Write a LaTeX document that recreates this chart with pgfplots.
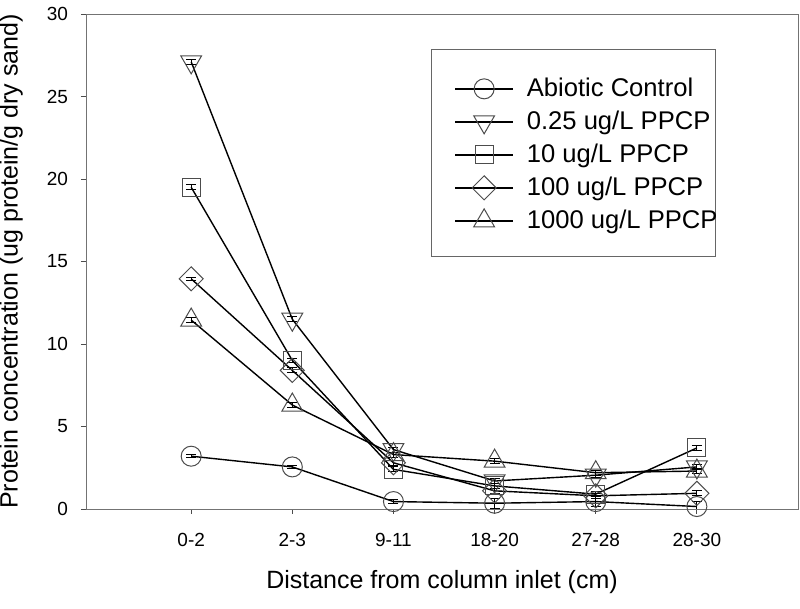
\documentclass[border=0pt]{standalone}
\usepackage{fontspec}
\setmainfont{Liberation Sans}
\usepackage{pgfplots}
\pgfplotsset{compat=1.18}

\begin{document}
\begin{tikzpicture}
\begin{axis}[
    scale only axis,
    width=356pt, height=247.5pt,
    xmin=-1.04, xmax=6, ymin=0, ymax=30,
    xtick={0,...,5},
    xticklabels={0-2,2-3,9-11,18-20,27-28,28-30},
    ytick={0,5,...,30},
    tick align=outside, tick pos=left,
    major tick length=2.5pt,
    axis line style={black!55},
    every tick/.style={black!70},
    /pgf/number format/assume math mode=true,
    tick label style={font=\fontsize{9.5}{11}\selectfont},
    xticklabel style={yshift=-6pt},
    yticklabel style={xshift=-3pt},
    xlabel={Distance from column inlet (cm)},
    ylabel={Protein concentration (ug protein/g dry sand)},
    every axis x label/.style={at={(axis description cs:0.5,-0.1475)}, anchor=center,
        font=\fontsize{12.5}{14}\selectfont},
    every axis y label/.style={at={(axis description cs:-0.105,0.5)}, rotate=90, anchor=center,
        font=\fontsize{12.5}{14}\selectfont},
    legend style={at={(axis description cs:0.4846,0.929)}, anchor=north west,
        draw=black!60, inner xsep=-3pt, inner ysep=10.5pt,
        font=\fontsize{12.8}{14}\selectfont,
        nodes={inner xsep=2pt, inner ysep=0pt, text height=13pt, text depth=3.5pt}},
    legend cell align=left,
    legend image code/.code={%
        \path (-4pt,-0.9pt);
        \draw[mark repeat=2,mark phase=2] plot coordinates {(10.5pt,-0.9pt) (25pt,-0.9pt) (39.5pt,-0.9pt)};},
    error bars/error mark options={rotate=90, mark size=2.5pt, black, line width=0.5pt},
]
\addplot[black, line width=0.7pt, mark=o, mark size=5pt, mark options={draw=black!70, line width=0.5pt},
    error bars/.cd, y dir=both, y explicit] coordinates {
    (0,3.2) +- (0,0.1) (1,2.55) +- (0,0.1) (2,0.45) +- (0,0.1)
    (3,0.35) +- (0,0.3) (4,0.45) +- (0,0.3) (5,0.15) +- (0,0.3)};
\addlegendentry{\hspace{4.5pt}Abiotic Control}
\addplot[black, line width=0.7pt, mark=triangle, mark size=6pt, mark options={rotate=180, draw=black!70, line width=0.5pt},
    error bars/.cd, y dir=both, y explicit] coordinates {
    (0,27.1) +- (0,0.15) (1,11.5) +- (0,0.15) (2,3.6) +- (0,0.15)
    (3,1.7) +- (0,0.15) (4,2.05) +- (0,0.15) (5,2.55) +- (0,0.15)};
\addlegendentry{\hspace{4.5pt}0.25 ug/L PPCP}
\addplot[black, line width=0.7pt, mark=square, mark size=4.5pt, mark options={draw=black!70, line width=0.5pt},
    error bars/.cd, y dir=both, y explicit] coordinates {
    (0,19.5) +- (0,0.15) (1,9.0) +- (0,0.15) (2,2.4) +- (0,0.15)
    (3,1.4) +- (0,0.15) (4,0.9) +- (0,0.15) (5,3.7) +- (0,0.15)};
\addlegendentry{\hspace{4.5pt}10 ug/L PPCP}
\addplot[black, line width=0.7pt, mark=square, mark size=4.25pt, mark options={rotate=45, draw=black!70, line width=0.5pt},
    error bars/.cd, y dir=both, y explicit] coordinates {
    (0,13.95) +- (0,0.1) (1,8.4) +- (0,0.15) (2,2.8) +- (0,0.15)
    (3,1.1) +- (0,0.15) (4,0.8) +- (0,0.15) (5,0.95) +- (0,0.15)};
\addlegendentry{\hspace{4.5pt}100 ug/L PPCP}
\addplot[black, line width=0.7pt, mark=triangle, mark size=6pt, mark options={draw=black!70, line width=0.5pt},
    error bars/.cd, y dir=both, y explicit] coordinates {
    (0,11.45) +- (0,0.15) (1,6.3) +- (0,0.15) (2,3.3) +- (0,0.15)
    (3,2.9) +- (0,0.15) (4,2.2) +- (0,0.15) (5,2.3) +- (0,0.15)};
\addlegendentry{\hspace{4.5pt}1000 ug/L PPCP\hspace{11pt}}
\coordinate (sw) at (rel axis cs:0,0);
\coordinate (ne) at (rel axis cs:1,1);
\end{axis}
\pgfresetboundingbox
\useasboundingbox ([xshift=-43pt,yshift=-49.5pt]sw) rectangle ([xshift=1pt,yshift=7pt]ne);
\end{tikzpicture}
\end{document}
